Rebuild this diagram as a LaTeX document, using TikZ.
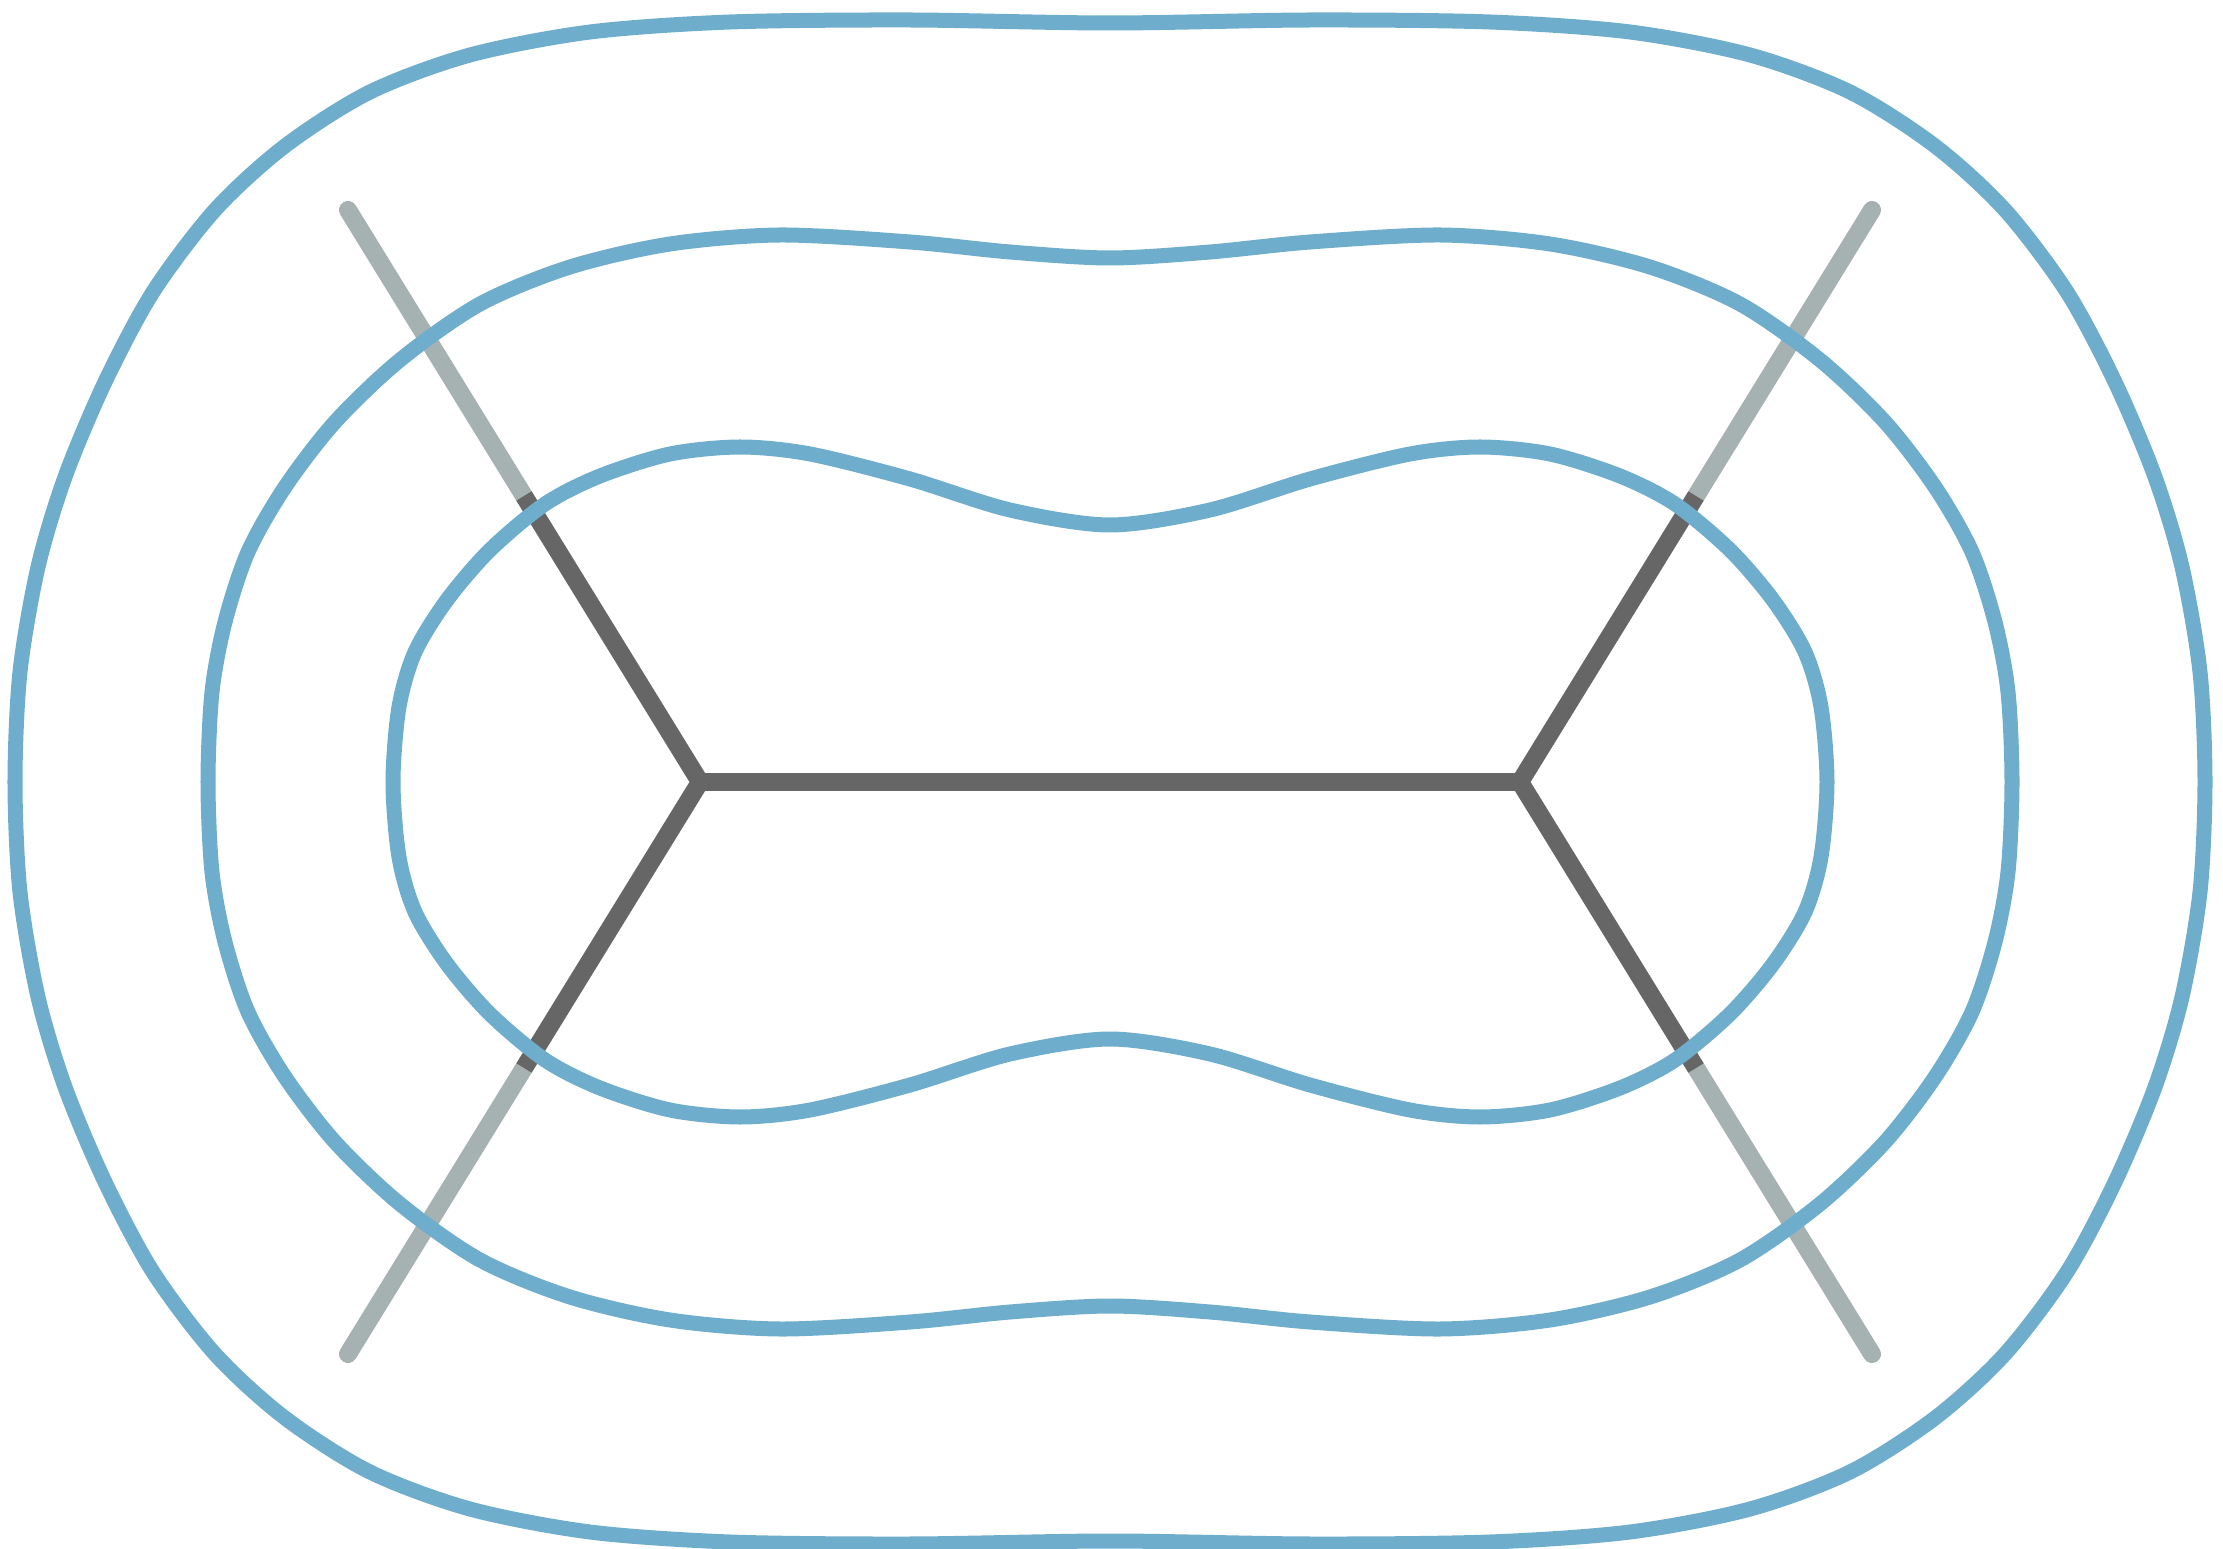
\documentclass[tikz,border=0pt]{standalone}
\usepackage{tikz}
\usetikzlibrary{calc}
\definecolor{contourblue}{RGB}{111,173,205}
\definecolor{edgegrey}{RGB}{102,102,102}
\definecolor{leggrey}{RGB}{166,178,178}

\begin{document}
\begin{tikzpicture}[x=0.01cm, y=-0.01cm,
    contour/.style={contourblue, line width=0.15cm, line join=round},
    inner edge/.style={edgegrey, line width=0.18cm, line join=miter},
    outer leg/.style={leggrey, line width=0.18cm, line cap=round}]
    \useasboundingbox (0,0) rectangle (2223,1549);

    % Vertices and leg ends
    \coordinate (vl) at (700,782);
    \coordinate (vr) at (1520,782);
    \coordinate (tl) at (348,210);
    \coordinate (bl) at (348,1354);
    \coordinate (tr) at (1872,210);
    \coordinate (br) at (1872,1354);
    \coordinate (mtl) at ($(vl)!0.5!(tl)$);
    \coordinate (mbl) at ($(vl)!0.5!(bl)$);
    \coordinate (mtr) at ($(vr)!0.5!(tr)$);
    \coordinate (mbr) at ($(vr)!0.5!(br)$);

    % Legs outside the inner curve
    \draw[outer leg] (mtl) -- (tl);
    \draw[outer leg] (mbl) -- (bl);
    \draw[outer leg] (mtr) -- (tr);
    \draw[outer leg] (mbr) -- (br);

    % Graph inside the inner curve
    \draw[inner edge] (mtl) -- (vl) -- (mbl);
    \draw[inner edge] (mtr) -- (vr) -- (mbr);
    \draw[inner edge] (vl) -- (vr);

    % Level curves
    \begin{scope}[shift={(1110,782)}]
    % inner
    \draw[contour] plot[smooth cycle] coordinates {
        (-717,0) (-711,-75) (-695,-130) (-663,-182) (-620,-232) (-565,-278)
        (-510,-306) (-440,-328) (-370,-335) (-300,-328) (-200,-303) (-100,-272)
        (0,-257)
        (100,-272) (200,-303) (300,-328) (370,-335) (440,-328) (510,-306)
        (565,-278) (620,-232) (663,-182) (695,-130) (711,-75) (717,0)
        (711,75) (695,130) (663,182) (620,232) (565,278) (510,306)
        (440,328) (370,335) (300,328) (200,303) (100,272) (0,257)
        (-100,272) (-200,303) (-300,328) (-370,335) (-440,328) (-510,306)
        (-565,278) (-620,232) (-663,182) (-695,130) (-711,75)};
    % middle
    \draw[contour] plot[smooth cycle] coordinates {
        (-902,0) (-898,-90) (-885,-160) (-862,-230) (-825,-295) (-775,-360)
        (-710,-422) (-630,-478) (-540,-515) (-440,-538) (-330,-547) (-200,-540)
        (-100,-530) (0,-524)
        (100,-530) (200,-540) (330,-547) (440,-538) (540,-515) (630,-478)
        (710,-422) (775,-360) (825,-295) (862,-230) (885,-160) (898,-90)
        (902,0)
        (898,90) (885,160) (862,230) (825,295) (775,360) (710,422)
        (630,478) (540,515) (440,538) (330,547) (200,540) (100,530)
        (0,524)
        (-100,530) (-200,540) (-330,547) (-440,538) (-540,515) (-630,478)
        (-710,422) (-775,360) (-825,295) (-862,230) (-885,160) (-898,90)};
    % outer
    \draw[contour] plot[smooth cycle] coordinates {
        (-1095,0) (-1090,-110) (-1072,-215) (-1045,-305) (-1005,-400) (-957,-490)
        (-895,-572) (-825,-636) (-740,-690) (-640,-727) (-520,-750) (-380,-760)
        (-200,-762) (0,-759)
        (200,-762) (380,-760) (520,-750) (640,-727) (740,-690) (825,-636)
        (895,-572) (957,-490) (1005,-400) (1045,-305) (1072,-215) (1090,-110)
        (1095,0)
        (1090,110) (1072,215) (1045,305) (1005,400) (957,490) (895,572)
        (825,636) (740,690) (640,727) (520,750) (380,760) (200,762)
        (0,759)
        (-200,762) (-380,760) (-520,750) (-640,727) (-740,690) (-825,636)
        (-895,572) (-957,490) (-1005,400) (-1045,305) (-1072,215) (-1090,110)};
    \end{scope}
\end{tikzpicture}
\end{document}
